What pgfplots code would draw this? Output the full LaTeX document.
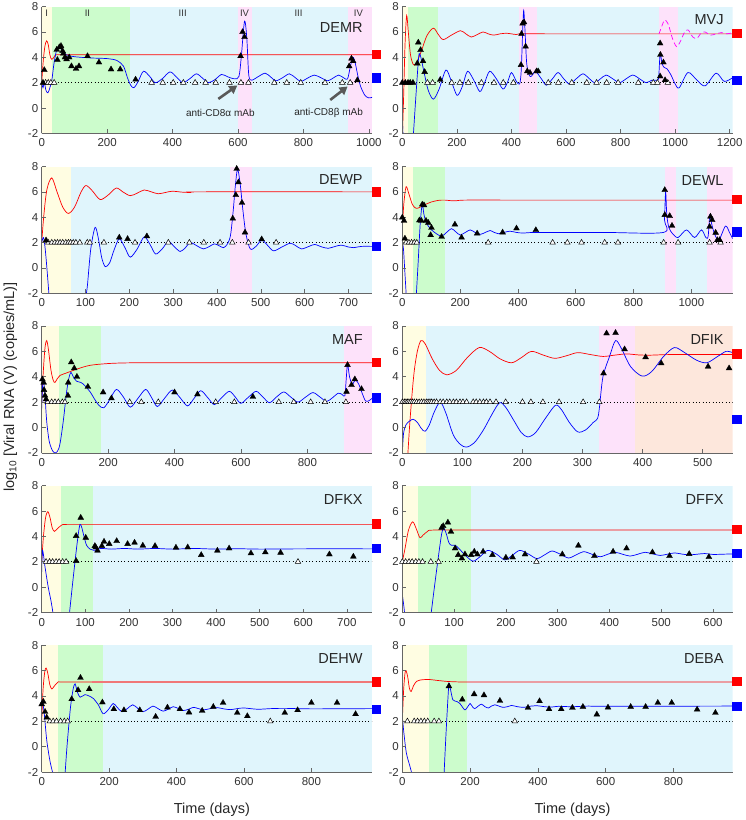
\documentclass[border=0pt]{standalone}
\usepackage{fontspec}
\setmainfont{Liberation Sans}
\usepackage{pgfplots}
\pgfplotsset{compat=1.18}
\usetikzlibrary{arrows.meta}
\definecolor{bY}{RGB}{255,253,226}
\definecolor{bG}{RGB}{204,252,204}
\definecolor{bB}{RGB}{224,245,252}
\definecolor{bP}{RGB}{253,226,250}
\definecolor{bO}{RGB}{253,231,220}
\definecolor{cR}{RGB}{255,0,0}
\definecolor{cRl}{RGB}{240,120,120}
\definecolor{cB}{RGB}{0,0,255}
\definecolor{cM}{RGB}{255,0,255}
\newcommand{\band}[3]{\addplot[draw=none, fill=#1] coordinates {(#2,-2) (#2,8) (#3,8) (#3,-2)} --cycle;}
\newcommand{\lod}[1]{\addplot[black, line width=0.6pt, dash pattern=on 0.7pt off 2.6pt] coordinates {(0,2) (#1,2)};}
\tikzset{ttl/.style={anchor=east, font=\fontsize{14.5}{15}\selectfont, text=black!85},
  blab/.style={font=\fontsize{9.5}{10}\selectfont, text=black!80}}
\pgfplotsset{
  panel/.style={anchor=north west, width=330.4pt, height=126.8pt, scale only axis,
    xmin=0, ymin=-2, ymax=8, ytick={-2,0,2,4,6,8},
    axis x line*=bottom, axis y line*=left,
    axis line style={-, black!60, line width=0.6pt},
    tick align=inside, major tick length=4pt,
    tick style={black!60, line width=0.6pt},
    tick label style={font=\fontsize{11.5}{12}\selectfont, text=black!80},
    xticklabel style={yshift=-2pt},
    /pgf/number format/assume math mode=true,
    /pgf/number format/1000 sep={},
    axis on top, clip=true},
  sqax/.style={anchor=north west, width=330.4pt, height=126.8pt, scale only axis,
    xmin=0, xmax=1, ymin=-2, ymax=8, hide axis, clip=false},
  redc/.style={color=cR, line width=0.7pt, smooth, tension=0.5},
  bluec/.style={color=cB, line width=0.7pt, smooth, tension=0.5},
  fil/.style={only marks, mark=triangle*, mark size=3.4pt, mark options={fill=black, draw=black, line width=0.3pt}},
  opn/.style={only marks, mark=triangle*, mark size=3.2pt, mark options={fill=white, draw=black, line width=0.5pt}},
  tlab/.style={xlabel={Time (days)}, xlabel style={font=\fontsize{14.5}{15}\selectfont, text=black!85, at={(axis description cs:0.5,0)}, anchor=center, yshift=-37.7pt, xshift=5pt}},
}
\newcommand{\squares}[4]{%
\begin{axis}[sqax, at={(#1pt,#2pt)}]
\addplot[only marks, mark=square*, mark size=4.3pt, color=cR] coordinates {(1.012,#3)};
\addplot[only marks, mark=square*, mark size=4.3pt, color=cB] coordinates {(1.012,#4)};
\end{axis}}
\begin{document}
\begin{tikzpicture}
\path[use as bounding box] (0pt,0pt) rectangle (745pt,-820pt);
\node[rotate=90, font=\fontsize{14.5}{15}\selectfont, text=black!85] at (10.5pt,-387pt) {log\textsubscript{10} [Viral RNA (V) (copies/mL)]};

% ---------------- DEMR
\begin{axis}[panel, at={(41.7pt,-6.6pt)}, xmax=1010, xtick={0,200,...,1000}]
\band{bY}{0}{30}\band{bG}{30}{270}\band{bB}{270}{600}\band{bP}{600}{642}\band{bB}{642}{936}\band{bP}{936}{1010}
\lod{1010}
\addplot[redc] coordinates {(0,2.0) (5,3.8) (10,4.9) (15,5.3) (20,5.0) (25,4.2) (30,3.85) (36,3.95) (43,4.2) (60,4.2) (200,4.2) (1010,4.2)};
\addplot[bluec] coordinates {(0,2.0) (4,1.6) (8,2.0) (13,1.4) (19,1.2) (25,1.6) (31,2.2) (38,3.6) (46,4.6) (54,4.85) (62,4.55) (75,4.2) (100,4.05) (150,3.95) (200,3.9) (230,3.75) (250,3.3) (262,2.4) (272,1.8) (282,1.6) (295,2.1) (311,2.9) (330,2.5) (347,2.0) (368,2.3) (392,2.85) (412,2.45) (431,2.0) (452,2.3) (473,2.7) (492,2.35) (510,2.0) (530,2.25) (550,2.65) (570,2.45) (590,2.3) (603,2.5) (610,4.0) (620,6.85) (627,5.5) (633,2.6) (642,2.2) (660,2.45) (683,2.75) (700,2.45) (716,2.15) (737,2.4) (757,2.7) (775,2.4) (792,2.1) (812,2.35) (833,2.6) (853,2.4) (874,2.15) (890,2.35) (908,2.6) (925,2.35) (935,2.3) (943,3.2) (951,4.0) (958,3.6) (966,2.6) (975,1.7) (988,1.0) (1000,0.8) (1010,0.85)};
\addplot[opn] coordinates {(12,2) (20,2) (28,2) (38,2) (336,2) (370,2) (402,2) (433,2) (469,2) (501,2) (532,2) (574,2) (609,2) (632,2) (711,2) (749,2) (792,2) (866,2) (919,2) (943,2)};
\addplot[fil] coordinates {(4,2) (8,3.0) (46,4.6) (48,3.8) (54,4.8) (59,4.9) (64,4.5) (66,4.3) (71,4.0) (76,3.85) (84,4.0) (91,3.3) (105,3.1) (114,3.3) (140,4.1) (175,3.6) (212,3.05) (240,3.05) (287,2.25) (608,4.1) (614,6.0) (620,5.6) (940,3.3) (947,3.9) (952,3.7) (965,2.2)};
\node[ttl] at (rel axis cs:0.982,0.834) {DEMR};
\node[blab] at (axis cs:15,7.45) {I};
\node[blab] at (axis cs:140,7.45) {II};
\node[blab] at (axis cs:431,7.45) {III};
\node[blab] at (axis cs:620,7.45) {IV};
\node[blab] at (axis cs:785,7.45) {III};
\node[blab] at (axis cs:968,7.45) {IV};
\draw[-{Triangle[length=8pt,width=9pt]}, line width=2.6pt, black!65] (axis cs:540,0.72) -- (axis cs:598,1.78);
\draw[-{Triangle[length=8pt,width=9pt]}, line width=2.6pt, black!65] (axis cs:882,0.64) -- (axis cs:935,1.7);
\node[font=\fontsize{10}{11}\selectfont, text=black!85] at (axis cs:546,-0.35) {anti-CD8α mAb};
\node[font=\fontsize{10}{11}\selectfont, text=black!85] at (axis cs:877,-0.35) {anti-CD8β mAb};
\end{axis}
\squares{41.7}{-6.6}{4.24}{2.37}

% ---------------- MVJ
\begin{axis}[panel, at={(402.3pt,-6.6pt)}, xmax=1211, xtick={0,200,...,1200}]
\band{bY}{0}{20}\band{bG}{20}{132}\band{bB}{132}{427}\band{bP}{427}{494}\band{bB}{494}{941}\band{bP}{941}{1011}\band{bB}{1011}{1211}
\lod{1211}
\addplot[redc] coordinates {(0,-2.5) (5,1) (10,5) (16,7.3) (22,6.0) (30,4.2) (40,3.45) (50,3.5) (70,4.5) (90,5.7) (114,6.3) (132,5.8) (150,5.4) (180,5.75) (213,6.1) (233,5.85) (253,5.6) (275,5.8) (296,6.0) (315,5.85) (335,5.75) (358,5.85) (381,5.9) (400,5.85) (418,5.8) (440,5.85) (600,5.85) (1211,5.85)};
\addplot[color=cM, line width=0.7pt, smooth, tension=0.5, dash pattern=on 5pt off 3pt] coordinates {(941,5.85) (952,6.5) (962,6.95) (975,6.6) (990,5.5) (1005,4.85) (1018,5.2) (1035,6.0) (1048,6.15) (1065,5.6) (1080,5.5) (1095,5.9) (1110,6.0) (1130,5.75) (1150,5.85) (1170,5.95) (1190,5.85) (1211,5.95)};
\addplot[bluec] coordinates {(0,-0.8) (3,-2.3)};
\addplot[bluec] coordinates {(40,-2.3) (50,1.0) (58,3.5) (62,4.3) (68,4.0) (80,2.8) (95,1.4) (114,0.7) (135,1.5) (160,3.0) (180,2.1) (201,1.0) (220,1.7) (239,2.9) (262,2.2) (284,1.3) (300,1.9) (320,2.9) (345,2.3) (369,1.5) (385,2.0) (400,2.8) (418,2.1) (430,1.9) (436,3.0) (441,6.0) (445,7.7) (450,6.0) (456,3.5) (465,2.6) (473,2.5) (483,2.8) (491,2.85) (510,2.3) (528,1.8) (550,2.3) (571,2.8) (592,2.3) (613,1.9) (637,2.3) (662,2.7) (684,2.35) (705,2.0) (726,2.3) (747,2.6) (772,2.3) (796,2.0) (820,2.3) (845,2.6) (870,2.3) (894,2.0) (915,2.2) (935,2.2) (940,2.5) (945,4.3) (952,3.5) (960,3.2) (970,3.1) (985,2.6) (1000,1.9) (1015,1.6) (1047,2.8) (1080,2.2) (1110,1.75) (1150,2.75) (1180,2.1) (1211,2.4)};
\addplot[opn] coordinates {(92,2) (111,2) (181,2) (211,2) (242,2) (290,2) (336,2) (370,2) (407,2) (535,2) (572,2) (621,2) (676,2) (712,2) (749,2) (791,2) (865,2) (920,2) (935,2) (973,2)};
\addplot[fil] coordinates {(0,2) (11,2) (21,2) (29,2) (39,2) (58.6,5.17) (67,4.58) (55,3.52) (76,3.7) (82,2.85) (139,2.23) (435,3.4) (437,5.85) (441,6.67) (446,6.77) (452,4.85) (458,2.9) (468,2.78) (492,2.9) (498,2.9) (945,5.1) (946,4.2) (957,3.6) (945,2.5) (963,2.2)};
\node[ttl] at (rel axis cs:0.983,0.894) {MVJ};
\end{axis}
\squares{402.3}{-6.6}{5.9}{2.2}

% ---------------- DEWP
\begin{axis}[panel, at={(41.7pt,-166.5pt)}, xmax=754, xtick={0,100,...,700}]
\band{bY}{0}{68}\band{bB}{68}{430}\band{bP}{430}{479}\band{bB}{479}{754}
\lod{754}
\addplot[redc] coordinates {(0,2) (5,4.2) (12,6.2) (23,7.1) (35,6.0) (48,4.8) (61,4.3) (75,4.8) (90,6.0) (101,6.5) (115,6.1) (133,5.4) (150,5.7) (170,6.3) (185,6.0) (202,5.7) (218,5.9) (234,6.15) (250,6.0) (266,5.85) (282,5.95) (298,6.05) (320,5.98) (340,5.95) (360,6.0) (754,6.0)};
\addplot[bluec] coordinates {(0,2.0) (4,2.4) (8,1.5) (13,-0.5) (17,-2.3)};
\addplot[bluec] coordinates {(100,-2.3) (104,-1.5) (112,1.5) (122,3.2) (130,2.2) (137,0.8) (145,0.1) (155,0.4) (165,1.4) (177,2.3) (190,1.6) (202,0.85) (218,1.5) (234,2.45) (248,1.8) (260,1.1) (275,1.5) (289,2.1) (302,1.7) (316,1.3) (328,1.6) (339,2.0) (354,1.75) (369,1.5) (383,1.7) (394,1.9) (405,1.75) (415,1.6) (424,1.9) (431,2.6) (437,4.5) (442,6.5) (447,7.8) (453,6.6) (459,4.6) (466,2.7) (476,1.5) (489,1.7) (502,2.2) (515,1.8) (529,1.35) (548,1.65) (567,1.95) (580,1.75) (593,1.5) (610,1.7) (623,1.85) (640,1.65) (654,1.55) (670,1.7) (684,1.8) (700,1.65) (711,1.6) (730,1.7) (754,1.7)};
\addplot[opn] coordinates {(15,2) (23,2) (30,2) (36,2) (42,2) (48,2) (55,2) (61,2) (66,2) (72,2) (78,2) (87,2) (104,2) (110,2) (142,2) (213,2) (289,2) (337,2) (370,2) (407,2) (435,2) (472,2) (535,2)};
\addplot[fil] coordinates {(10,2.18) (177,2.4) (196,2.29) (240,2.5) (436,3.9) (443,5.75) (445,7.82) (449,6.76) (457,5.14) (464,2.8) (502,2.26)};
\node[ttl] at (rel axis cs:0.982,0.895) {DEWP};
\end{axis}
\squares{41.7}{-166.5}{6.02}{1.7}

% ---------------- DEWL
\begin{axis}[panel, at={(402.3pt,-166.5pt)}, xmax=1143, xtick={0,200,...,1000}]
\band{bY}{0}{38}\band{bG}{38}{148}\band{bB}{148}{908}\band{bP}{908}{946}\band{bB}{946}{1054}\band{bP}{1054}{1143}
\lod{1143}
\addplot[redc] coordinates {(0,3.0) (5,5.0) (13,6.4) (22,5.9) (35,5.0) (48,4.7) (62,4.8) (84,5.05) (100,5.2) (125,5.33) (147,5.35) (170,5.3) (187,5.3) (220,5.35) (400,5.35) (1143,5.35)};
\addplot[bluec] coordinates {(0,2.0) (4,1.5) (8,0) (14,-2.3)};
\addplot[bluec] coordinates {(48,-2.3) (55,0.5) (62,3.5) (69,5.0) (75,4.2) (82,3.6) (90,3.3) (101,3.0) (118,2.7) (136,2.5) (153,2.8) (170,3.1) (185,2.85) (200,2.6) (218,2.8) (235,3.0) (252,2.8) (270,2.65) (287,2.8) (304,2.95) (318,2.8) (332,2.7) (352,2.8) (372,2.9) (395,2.8) (420,2.75) (464,2.8) (700,2.8) (903,2.8) (907,3.8) (911,6.0) (915,4.2) (922,3.2) (935,2.7) (954,2.4) (983,3.0) (1011,2.4) (1035,3.0) (1050,2.4) (1058,2.5) (1064,4.2) (1070,3.5) (1080,2.7) (1095,2.2) (1118,3.3) (1132,2.8) (1143,2.3)};
\addplot[opn] coordinates {(13,2) (23,2) (32,2) (41.5,2) (50,2) (297,2) (520,2) (571,2) (620,2) (700,2) (746,2) (904,2) (954,2) (1063,2) (1101,2)};
\addplot[fil] coordinates {(0,3.98) (6,3.72) (9,2.32) (59,3.75) (66,3.72) (69,5.0) (75,4.95) (82,3.72) (90,3.56) (101,3.17) (98,2.59) (136,2.46) (182,3.43) (205,2.4) (259,2.72) (347,2.8) (395,3.12) (462,2.99) (908,6.15) (908,4.18) (925,4.1) (933,3.33) (1066,4.05) (1063,3.25) (1072,3.78) (1084,2.78) (1090,2.2) (1098,2.2)};
\node[ttl] at (rel axis cs:0.983,0.89) {DEWL};
\end{axis}
\squares{402.3}{-166.5}{5.43}{2.84}

% ---------------- MAF
\begin{axis}[panel, at={(41.7pt,-326pt)}, xmax=995, xtick={0,200,...,800}]
\band{bY}{0}{53}\band{bG}{53}{178}\band{bB}{178}{910}\band{bP}{910}{995}
\lod{995}
\addplot[redc] coordinates {(0,2.0) (5,4.5) (10,6.3) (15,6.85) (20,6.2) (28,4.5) (35,3.7) (40,3.55) (47,3.85) (55,4.1) (75,4.3) (106,4.6) (146,4.9) (207,5.05) (280,5.1) (400,5.1) (995,5.1)};
\addplot[bluec] coordinates {(0,1.5) (3,3.4) (6,3.6) (10,2.5) (15,0.5) (22,-1.0) (30,-1.7) (38,-2.0) (47,-1.9) (55,-1.3) (65,0.5) (75,2.8) (82,3.9) (88,4.35) (95,4.0) (105,3.65) (118,3.55) (130,3.3) (146,2.8) (160,2.2) (172,1.75) (187,1.55) (205,2.2) (225,3.0) (246,2.4) (267,1.6) (290,2.3) (313,3.0) (330,2.4) (348,1.65) (370,2.3) (393,2.95) (415,2.4) (439,1.7) (459,2.3) (479,2.9) (500,2.35) (520,1.8) (542,2.35) (565,2.85) (583,2.4) (600,1.9) (623,2.4) (646,2.85) (666,2.4) (686,1.95) (707,2.4) (729,2.8) (750,2.4) (772,2.0) (795,2.4) (817,2.75) (838,2.4) (858,2.05) (876,2.35) (893,2.7) (905,2.6) (913,2.5) (917,3.8) (921,5.0) (927,4.0) (935,3.4) (945,3.75) (955,3.4) (965,2.7) (975,2.1) (985,2.1) (995,2.3)};
\addplot[opn] coordinates {(18,2) (30,2) (40,2) (50,2) (62,2) (70,2) (265,2) (300,2) (351,2) (524,2) (580,2) (714,2) (759,2) (810,2) (853,2) (916,2)};
\addplot[fil] coordinates {(2,3.8) (6,3.54) (7,2.96) (10,2.51) (13,2.22) (79,2.51) (80,3.54) (89,5.14) (98,4.67) (106,4.0) (139,3.21) (185,2.77) (210,2.3) (400,2.77) (469,2.61) (636,2.42) (918,2.82) (921,4.93) (933,3.35) (943,3.8) (963,3.03)};
\node[ttl] at (rel axis cs:0.982,0.895) {MAF};
\end{axis}
\squares{41.7}{-326}{5.14}{2.35}

% ---------------- DFIK
\begin{axis}[panel, at={(402.3pt,-326pt)}, xmax=550, xtick={0,100,...,500}]
\band{bY}{0}{39}\band{bB}{39}{327}\band{bP}{327}{388}\band{bO}{388}{550}
\lod{550}
\addplot[redc] coordinates {(9,-2.3) (12,0) (16,2.5) (20,4.5) (25,6.0) (31,6.85) (38,6.6) (50,5.4) (62,4.5) (74,4.15) (90,4.5) (108,5.5) (128,6.3) (145,6.0) (163,5.4) (182,5.1) (198,5.5) (215,6.0) (235,5.7) (254,5.45) (273,5.65) (292,5.9) (313,5.75) (334,5.6) (353,5.7) (373,5.8) (393,5.72) (413,5.7) (450,5.75) (550,5.75)};
\addplot[bluec] coordinates {(0,-2.1) (2,-0.5) (6,0.2) (12,0.5) (18,0.65) (25,0.4) (32,-0.1) (38,-0.3) (45,0.2) (53,1.2) (63,2.0) (72,1.2) (85,-0.6) (97,-1.35) (107,-1.55) (120,-1.2) (135,-0.2) (150,1.1) (162,1.95) (172,1.6) (185,0.6) (198,-0.4) (209,-0.75) (222,-0.4) (238,0.7) (255,1.75) (265,1.4) (278,0.4) (292,-0.35) (305,-0.2) (318,0.4) (325,0.7) (328,1.5) (334,4.0) (345,5.6) (355,6.85) (365,6.2) (380,4.8) (399,4.05) (415,4.4) (435,5.6) (453,6.3) (470,5.9) (490,5.3) (507,5.1) (525,5.6) (539,6.0) (550,5.9)};
\addplot[opn] coordinates {(0,2) (3.3,2) (6,2) (8.3,2) (11,2) (13.8,2) (17,2) (20,2) (24,2) (28,2) (32,2) (36,2) (40,2) (43,2) (46,2) (49,2) (53,2) (57,2) (63,2) (68,2) (74,2) (79,2) (85,2) (90,2) (96,2) (101,2) (107,2) (118,2) (123,2) (129,2) (135,2) (140,2) (146,2) (156,2) (172,2) (200,2) (214,2) (234,2) (261,2) (301,2) (328,2)};
\addplot[fil] coordinates {(340,7.42) (355,7.46) (370,6.17) (405,5.54) (431,5.06) (335,4.27) (509,4.8) (544,4.67)};
\node[ttl] at (rel axis cs:0.983,0.895) {DFIK};
\end{axis}
\squares{402.3}{-326}{5.8}{0.65}

% ---------------- DFKX
\begin{axis}[panel, at={(41.7pt,-485.7pt)}, xmax=758, xtick={0,100,...,700}]
\band{bY}{0}{44}\band{bG}{44}{117}\band{bB}{117}{758}
\lod{758}
\addplot[redc] coordinates {(0,2) (4,4.0) (9,5.5) (14,5.95) (19,5.5) (24,4.7) (29,4.4) (36,4.6) (46,4.9) (60,4.95) (150,4.95) (758,4.95)};
\addplot[bluec] coordinates {(0,1.2) (2,2.9) (8,1.5) (15,0) (22,-1.2) (27,-2.3)};
\addplot[bluec] coordinates {(63,-2.3) (70,0) (78,2.5) (84,4.2) (88,4.95) (92,4.7) (97,4.0) (103,3.3) (111,3.0) (120,2.9) (135,3.05) (160,3.0) (190,3.05) (220,3.0) (260,3.05) (300,3.0) (350,3.05) (400,3.0) (450,3.03) (500,3.0) (600,3.02) (758,3.02)};
\addplot[opn] coordinates {(10,2) (18,2) (25,2) (33,2) (40,2) (48,2) (56,2) (588,2)};
\addplot[fil] coordinates {(89.5,5.48) (79,4.04) (101,3.9) (122,3.25) (128,2.88) (124,3.14) (138,3.25) (143,3.59) (155,3.41) (172,3.64) (197,3.41) (213,3.51) (232,3.28) (260,3.25) (308,3.12) (335,3.14) (366,2.54) (403,2.88) (430,3.06) (480,2.67) (513,2.75) (548,2.72) (660,2.59) (715,2.41) (79,2.07)};
\node[ttl] at (rel axis cs:0.982,0.895) {DFKX};
\end{axis}
\squares{41.7}{-485.7}{5.0}{3.07}

% ---------------- DFFX
\begin{axis}[panel, at={(402.3pt,-485.7pt)}, xmax=638, xtick={0,100,...,600}]
\band{bY}{0}{31}\band{bG}{31}{133}\band{bB}{133}{638}
\lod{638}
\addplot[redc] coordinates {(0,2) (5,3.0) (12,4.5) (20,5.15) (27,4.6) (34,3.9) (40,4.1) (49,4.4) (60,4.5) (150,4.5) (638,4.5)};
\addplot[bluec] coordinates {(0,-0.6) (3,-1.5) (5,-2.3)};
\addplot[bluec] coordinates {(55,-2.3) (62,0) (70,2.5) (76,4.2) (80,4.65) (85,4.2) (90,3.5) (95,3.3) (102,3.3) (108,3.1) (115,2.8) (121,2.55) (130,2.2) (138,2.05) (150,2.4) (165,2.9) (182,2.6) (198,2.15) (212,2.5) (227,2.9) (244,2.6) (260,2.25) (275,2.55) (289,2.85) (305,2.6) (321,2.3) (336,2.55) (350,2.8) (366,2.6) (382,2.4) (397,2.6) (411,2.75) (425,2.6) (440,2.45) (455,2.6) (469,2.75) (484,2.62) (498,2.5) (512,2.6) (526,2.7) (541,2.6) (555,2.55) (570,2.6) (584,2.65) (600,2.58) (620,2.6) (638,2.62)};
\addplot[opn] coordinates {(0,2) (6.4,2) (13,2) (19,2) (26,2) (32,2) (39,2) (55,2) (70,2) (259,2)};
\addplot[fil] coordinates {(76,4.69) (79,4.82) (88,5.1) (94,4.37) (102,3.06) (108,2.54) (115,2.27) (121,2.59) (133,2.54) (139,2.8) (145,2.59) (156,2.8) (174,2.54) (200,2.33) (213,2.35) (237,2.59) (309,2.59) (340,3.28) (371,2.46) (407,2.8) (433,3.06) (483,2.75) (516,2.46) (554,2.62) (592,2.38)};
\node[ttl] at (rel axis cs:0.983,0.895) {DFFX};
\end{axis}
\squares{402.3}{-485.7}{4.57}{2.68}

% ---------------- DEHW
\begin{axis}[panel, tlab, at={(41.7pt,-645.2pt)}, xmax=980, xtick={0,200,...,800}]
\band{bY}{0}{49}\band{bG}{49}{181}\band{bB}{181}{980}
\lod{980}
\addplot[color=cR, line width=0.7pt, smooth, tension=0.5] coordinates {(0,2) (4,4.5) (9,5.9) (13,6.2) (18,5.8) (24,4.9) (30,4.55) (38,4.8) (49,5.1) (60,5.1) (150,5.1)};
\addplot[color=cRl, line width=1.2pt] coordinates {(150,5.1) (980,5.1)};
\addplot[bluec] coordinates {(0,3.3) (3,3.5) (8,2.5) (15,0.5) (25,-1.2) (35,-2.3)};
\addplot[bluec] coordinates {(69,-2.3) (75,0) (85,3.0) (93,4.5) (99,4.95) (106,4.3) (114,3.9) (128,4.1) (140,4.0) (153,3.8) (168,3.3) (182,2.6) (197,2.9) (212,3.4) (224,3.1) (238,2.75) (254,3.0) (270,3.3) (286,3.0) (300,2.75) (315,2.95) (330,3.2) (345,3.0) (360,2.8) (375,2.95) (390,3.15) (406,3.0) (420,2.85) (436,2.95) (450,3.1) (465,3.0) (480,2.9) (500,3.0) (520,3.08) (540,2.98) (560,2.92) (580,3.0) (600,3.05) (640,2.95) (680,3.0) (720,3.02) (800,2.98) (980,3.0)};
\addplot[opn] coordinates {(24,2) (34,2) (44,2) (56,2) (67,2) (77,2) (678,2)};
\addplot[fil] coordinates {(0,3.35) (5,3.54) (10,2.75) (15,2.3) (89,3.75) (108,4.46) (115,5.43) (141,4.54) (180,3.49) (214,2.96) (244,2.88) (291,2.88) (338,2.36) (373,3.09) (410,2.96) (437,2.7) (476,2.83) (509,3.14) (538,3.46) (580,2.67) (610,2.41) (721,2.67) (759,2.88) (800,3.46) (876,3.46) (931,2.57)};
\node[ttl] at (rel axis cs:0.982,0.895) {DEHW};
\end{axis}
\squares{41.7}{-645.2}{5.11}{2.94}

% ---------------- DEBA
\begin{axis}[panel, tlab, at={(402.3pt,-645.2pt)}, xmax=975, xtick={0,200,...,800}]
\band{bY}{0}{79}\band{bG}{79}{190}\band{bB}{190}{975}
\lod{975}
\addplot[redc] coordinates {(0,2) (4,4.5) (8,5.8) (11,6.0) (16,5.5) (21,4.6) (26,4.35) (33,4.8) (42,5.15) (52,5.25) (77,5.3) (111,5.2) (150,5.12) (250,5.1) (975,5.1)};
\addplot[bluec] coordinates {(0,2.4) (5,1.0) (12,-0.5) (22,-1.5) (30,-2.3)};
\addplot[bluec] coordinates {(123,-2.3) (128,0.5) (134,3.5) (138,5.0) (143,4.4) (149,3.7) (155,3.6) (162,3.55) (170,3.4) (178,3.1) (185,2.9) (192,3.1) (200,3.4) (207,3.15) (214,3.0) (224,3.2) (234,3.35) (244,3.15) (254,3.05) (263,3.2) (273,3.3) (285,3.2) (297,3.1) (310,3.15) (322,3.25) (340,3.15) (360,3.1) (380,3.2) (400,3.22) (420,3.15) (440,3.12) (460,3.18) (500,3.15) (550,3.2) (600,3.18) (975,3.2)};
\addplot[opn] coordinates {(15,2) (35,2) (45,2) (55,2) (65,2) (75,2) (94,2) (108,2) (332,2)};
\addplot[fil] coordinates {(137.5,4.77) (177,3.72) (212,4.14) (241,4.06) (288,3.62) (371,3.07) (405,3.59) (433,2.96) (469,2.96) (502,3.07) (533,3.14) (574,2.54) (607,3.09) (674,3.14) (718,3.14) (754,3.46) (795,3.46) (870,2.93) (924,2.67)};
\node[ttl] at (rel axis cs:0.983,0.895) {DEBA};
\end{axis}
\squares{402.3}{-645.2}{5.15}{3.2}
\end{tikzpicture}
\end{document}
